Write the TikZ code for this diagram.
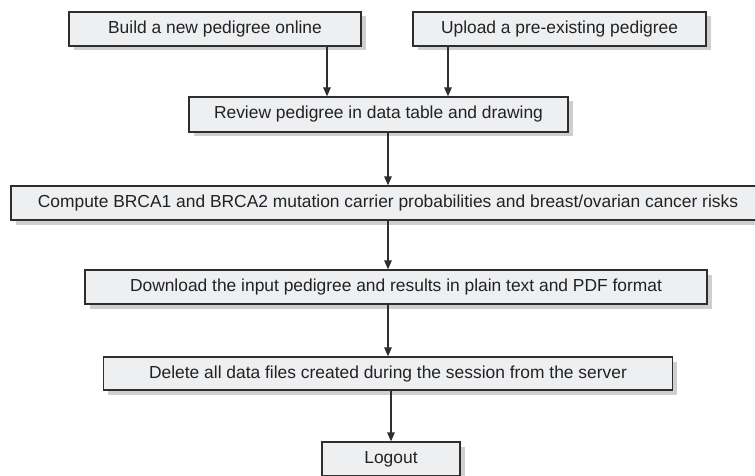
\documentclass[tikz,border=0pt]{standalone}
\usepackage{fontspec}
\setmainfont{Liberation Sans}
\usepackage{xcolor}
\usepackage{tikz}
\usetikzlibrary{positioning,arrows.meta,shadows}

\definecolor{boxfill}{HTML}{EEEFF1}
\definecolor{boxline}{HTML}{2E2E2E}
\definecolor{boxshade}{HTML}{CFCFCF}
\definecolor{boxtext}{HTML}{222222}

\begin{document}
\begin{tikzpicture}[x=1pt,y=-1pt,
  stepbox/.style={draw=boxline, line width=1.3pt, fill=boxfill, inner sep=0pt,
    text=boxtext, minimum height=34pt, font=\fontsize{17.4}{20}\selectfont,
    general shadow={fill=boxshade, shadow xshift=4.5pt, shadow yshift=-4.5pt}},
  arr/.style={draw=boxline, line width=1.3pt, -{Triangle[length=9pt,width=7.5pt]}}]
  
  \useasboundingbox (0,0) rectangle (755,476);
  
  \node[stepbox, minimum width=292pt] (build) at (215,29) {Build a new pedigree online};
  \node[stepbox, minimum width=293pt] (upload) at (559.5,29) {Upload a pre-existing pedigree};
  \node[stepbox, minimum width=379pt, minimum height=35pt] (review) at (378.5,114.5) {Review pedigree in data table and drawing};
  \node[stepbox, minimum width=754pt] (compute) at (388,203) {Compute BRCA1 and BRCA2 mutation carrier probabilities and breast/ovarian cancer risks};
  \node[stepbox, minimum width=622pt] (download) at (396,287) {Download the input pedigree and results in plain text and PDF format};
  \node[stepbox, minimum width=569pt, minimum height=33pt] (delete) at (388,373.5) {Delete all data files created during the session from the server};
  \node[stepbox, minimum width=138pt] (logout) at (391,459) {Logout};
  
  % arrows into the review step
  \draw[arr] ([xshift=112pt]build.south) -- ([xshift=112pt]build.south |- review.north);
  \draw[arr] ([xshift=-111.5pt]upload.south) -- ([xshift=-111.5pt]upload.south |- review.north);
  % main column
  \draw[arr] (compute.north |- review.south) -- (compute.north);
  \draw[arr] (compute.south) -- (compute.south |- download.north);
  \draw[arr] (delete.north |- download.south) -- (delete.north);
  \draw[arr] (logout.north |- delete.south) -- (logout.north);
\end{tikzpicture}
\end{document}
